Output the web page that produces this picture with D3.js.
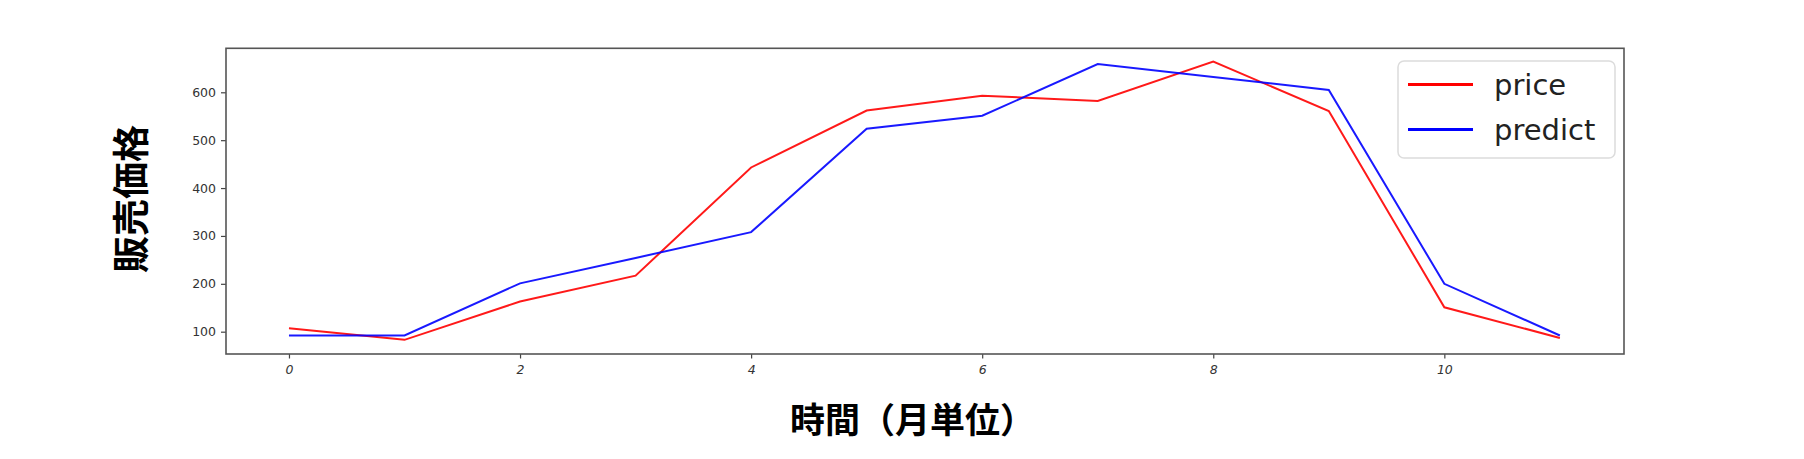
<!DOCTYPE html>
<html>
<head>
<meta charset="utf-8">
<script src="https://cdn.jsdelivr.net/npm/d3@7"></script>
<style>
  html, body { margin: 0; padding: 0; background: #fff; }
  svg { display: block; }
</style>
</head>
<body>
<svg id="chart" width="1804" height="459"></svg>
<script>
const months = [0, 1, 2, 3, 4, 5, 6, 7, 8, 9, 10, 11];
const price = [107, 83, 163, 217, 443, 562, 593, 582, 664, 561, 151, 87];
const predict = [92, 92, 201, 254, 308, 524, 551, 659, 632, 605, 200, 92];
const xTicks = [0, 2, 4, 6, 8, 10];
const yTicks = [100, 200, 300, 400, 500, 600];
const seriesNames = ["price", "predict"];
const xLabel = "時間（月単位）";
const yLabel = "販売価格";

const svg = d3.select("#chart");
const L = 226, R = 1624, T = 48.3, B = 354;

const x = d3.scaleLinear().domain([-0.545, 11.555]).range([L, R]);
const y = d3.scaleLinear().domain([53.4, 691.9]).range([B, T]);

svg.append("rect").attr("width", 1804).attr("height", 459).attr("fill", "#fff");

// axes
const yAxis = svg.append("g")
  .attr("transform", `translate(${L},0)`)
  .call(d3.axisLeft(y).tickValues(yTicks).tickSize(5).tickPadding(5).tickFormat(d3.format("d")));
yAxis.select(".domain").remove();
yAxis.selectAll("line").attr("stroke", "#444").attr("stroke-width", 1.2);
yAxis.selectAll("text")
  .attr("fill", "#333")
  .style("font-family", "'DejaVu Sans', sans-serif")
  .style("font-size", "12.5px");

const xAxis = svg.append("g")
  .attr("transform", `translate(0,${B})`)
  .call(d3.axisBottom(x).tickValues(xTicks).tickSize(4.5).tickPadding(7).tickFormat(d3.format("d")));
xAxis.select(".domain").remove();
xAxis.selectAll("line").attr("stroke", "#444").attr("stroke-width", 1.2);
xAxis.selectAll("text")
  .attr("fill", "#333")
  .style("font-family", "'DejaVu Sans', sans-serif")
  .style("font-size", "12.5px")
  .style("font-style", "italic");

// lines
const line = d3.line().x((d, i) => x(months[i])).y(d => y(d));
svg.append("path").datum(price)
  .attr("d", line).attr("fill", "none")
  .attr("stroke", "#ff0000").attr("stroke-width", 2).attr("stroke-opacity", 0.9);
svg.append("path").datum(predict)
  .attr("d", line).attr("fill", "none")
  .attr("stroke", "#0000ff").attr("stroke-width", 2).attr("stroke-opacity", 0.9);

// frame
svg.append("rect")
  .attr("x", L).attr("y", T).attr("width", R - L).attr("height", B - T)
  .attr("fill", "none").attr("stroke", "#555").attr("stroke-width", 1.6);

// legend
const leg = svg.append("g");
leg.append("rect")
  .attr("x", 1398).attr("y", 61).attr("width", 217).attr("height", 97)
  .attr("rx", 6).attr("fill", "#fff").attr("fill-opacity", 0.8)
  .attr("stroke", "#dcdcdc").attr("stroke-width", 1.5);
const legColors = ["#ff0000", "#0000ff"];
seriesNames.forEach((name, i) => {
  const ly = 84.5 + i * 45;
  leg.append("line")
    .attr("x1", 1408).attr("x2", 1473).attr("y1", ly).attr("y2", ly)
    .attr("stroke", legColors[i]).attr("stroke-width", 3);
  leg.append("text")
    .attr("x", 1494).attr("y", ly)
    .attr("dominant-baseline", "central")
    .attr("fill", "#222")
    .style("font-family", "'DejaVu Sans', sans-serif")
    .style("font-size", "29px")
    .text(name);
});

// axis labels
svg.append("text")
  .attr("x", 790).attr("y", 417)
  .attr("dominant-baseline", "central")
  .attr("fill", "#000")
  .style("font-family", "'Noto Sans CJK JP', sans-serif")
  .style("font-weight", "bold")
  .style("font-size", "35px")
  .text(xLabel);

svg.append("text")
  .attr("transform", "translate(129,199) rotate(-90)")
  .attr("text-anchor", "middle")
  .attr("dominant-baseline", "central")
  .attr("fill", "#000")
  .style("font-family", "'Noto Sans CJK JP', sans-serif")
  .style("font-weight", "bold")
  .style("font-size", "37px")
  .text(yLabel);
</script>
</body>
</html>
